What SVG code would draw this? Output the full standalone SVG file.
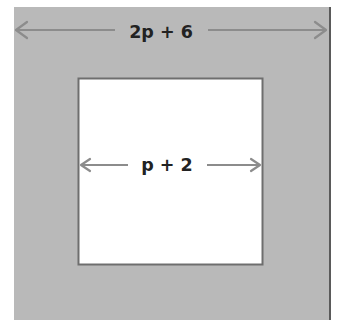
<svg xmlns="http://www.w3.org/2000/svg" width="337" height="320" viewBox="0 0 337 320">
<style>
.lbl{font-family:"DejaVu Sans","Liberation Sans",sans-serif;font-weight:bold;font-size:17.5px;fill:#222;text-anchor:middle}
.dim{stroke:#8c8c8c;stroke-width:2.2;fill:none}
.head{stroke:#8c8c8c;stroke-width:2.2;fill:none;stroke-linecap:round;stroke-linejoin:round}
</style>
<rect width="337" height="320" fill="#ffffff"/>
<g id="outer">
<rect x="14" y="7" width="317" height="313" fill="#b9b9b9"/>
<line x1="330" y1="7" x2="330" y2="320" stroke="#5a5a5a" stroke-width="2"/>
<text class="lbl" x="161" y="38">2p + 6</text>
</g>
<g id="inner">
<rect x="78.5" y="78.5" width="184" height="186" fill="#ffffff" stroke="#6e6e6e" stroke-width="2"/>
<text class="lbl" x="167" y="171">p + 2</text>
</g>
<g id="connectors">
<line class="dim" x1="16" y1="30" x2="115" y2="30"/>
<line class="dim" x1="208" y1="30" x2="326" y2="30"/>
<polyline class="head" points="27,22 16,30 27,38"/>
<polyline class="head" points="315,22 326,30 315,38"/>
<line class="dim" x1="81" y1="165" x2="128" y2="165"/>
<line class="dim" x1="207" y1="165" x2="260" y2="165"/>
<polyline class="head" points="90,159 81,165 90,171"/>
<polyline class="head" points="251,159 260,165 251,171"/>
</g>
</svg>
